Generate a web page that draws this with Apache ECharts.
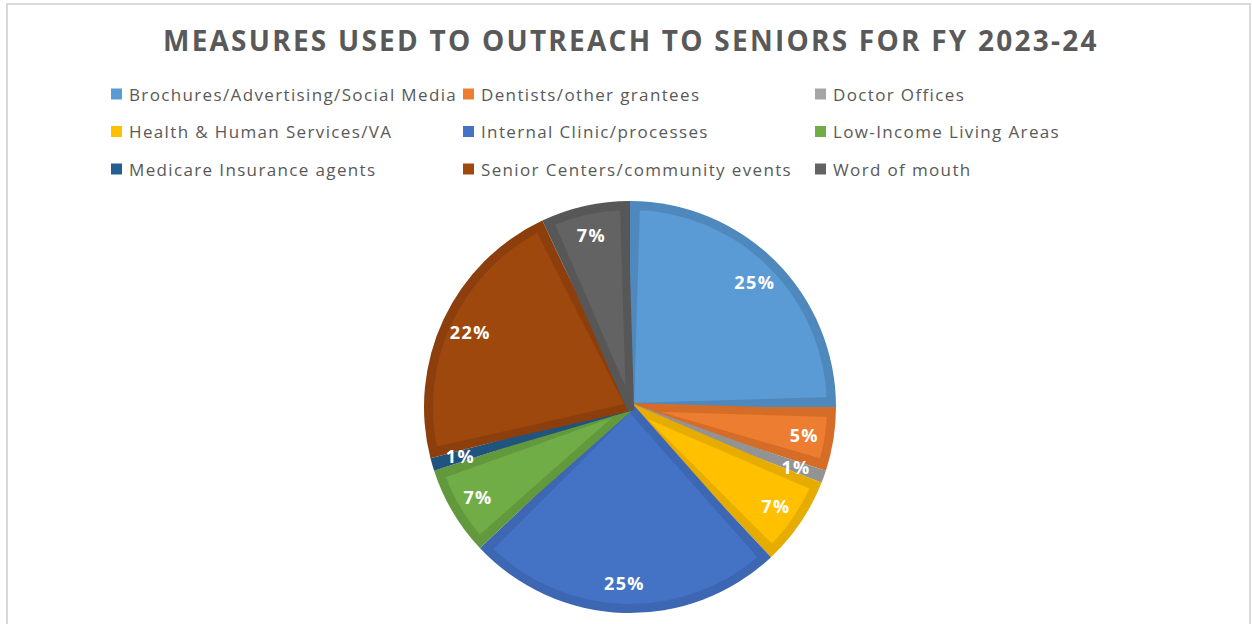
<!DOCTYPE html>
<html>
<head>
<meta charset="utf-8">
<script src="https://cdn.jsdelivr.net/npm/echarts@6/dist/echarts.min.js"></script>
<style>
html,body{margin:0;padding:0;background:#fff;}
#chart{width:1252px;height:624px;}
#chart svg text{letter-spacing:0.08em;}
</style>
</head>
<body>
<div id="chart"></div>
<script>
const titleText = 'MEASURES USED TO OUTREACH TO SENIORS FOR FY 2023-24';
const categories = [
  'Brochures/Advertising/Social Media',
  'Dentists/other grantees',
  'Doctor Offices',
  'Health & Human Services/VA',
  'Internal Clinic/processes',
  'Low-Income Living Areas',
  'Medicare Insurance agents',
  'Senior Centers/community events',
  'Word of mouth'
];
const values = [25, 5, 1, 7, 25, 7, 1, 22, 7];
const fillColors = ['#5B9BD5', '#ED7D31', '#A5A5A5', '#FFC000', '#4472C4', '#70AD47', '#255E91', '#9E480E', '#636363'];
const edgeColors = ['#4F88BC', '#D66D26', '#939393', '#E6AC00', '#3D67B2', '#63993D', '#21537F', '#8C3F0C', '#575757'];

const R = 206;
const center = [630, 407];

const chart = echarts.init(document.getElementById('chart'), null, {renderer: 'svg'});

const baseData = categories.map((c, i) => ({name: c, value: values[i], itemStyle: {color: edgeColors[i]}}));
const fillData = categories.map((c, i) => ({name: c, value: values[i], itemStyle: {color: fillColors[i], borderColor: edgeColors[i], borderWidth: 8}}));
const labelData = categories.map((c, i) => ({name: c, value: values[i], itemStyle: {color: 'rgba(0,0,0,0)'}}));

chart.setOption({
  animation: false,
  backgroundColor: '#fff',
  graphic: [{
    type: 'rect', silent: true, z: -1,
    shape: {x: 7, y: 4, width: 1243, height: 640},
    style: {fill: 'none', stroke: '#d9d9d9', lineWidth: 2}
  }],
  title: {
    text: titleText,
    left: 163,
    top: 26,
    padding: 0,
    textStyle: {fontFamily: 'Open Sans', fontWeight: 'bold', fontSize: 28, color: '#595959'}
  },
  legend: {
    left: 111,
    top: 85.5,
    padding: 0,
    width: 1060,
    orient: 'horizontal',
    itemWidth: 11,
    itemHeight: 11,
    itemGap: 20.5,
    icon: 'rect',
    selectedMode: false,
    data: categories.map((c, i) => ({name: c, itemStyle: {color: fillColors[i]}})),
    textStyle: {fontFamily: 'Open Sans', fontSize: 17, color: '#595959', width: 313.5, lineHeight: 14, padding: [0, 0, 0, 2]}
  },
  series: [
    {
      type: 'pie', silent: true, center: center, radius: [0, R],
      startAngle: 90, clockwise: true,
      label: {show: false}, labelLine: {show: false},
      data: baseData
    },
    {
      type: 'pie', silent: true, center: center, radius: [0, R - 5],
      startAngle: 90, clockwise: true, padAngle: 3.4,
      label: {show: false}, labelLine: {show: false},
      data: fillData
    },
    {
      type: 'pie', silent: true, center: center, radius: [141, R],
      startAngle: 90, clockwise: true,
      labelLine: {show: false},
      label: {
        show: true, position: 'inside',
        formatter: p => Math.round(p.percent) + '%',
        color: '#fff', fontFamily: 'Open Sans', fontWeight: 'bold', fontSize: 18
      },
      data: labelData
    }
  ]
});
</script>
</body>
</html>
